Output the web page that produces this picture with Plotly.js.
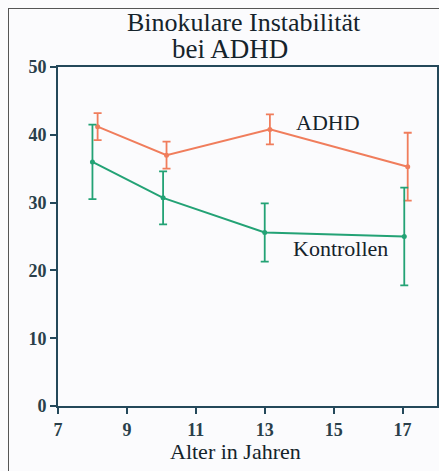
<!DOCTYPE html>
<html><head><meta charset="utf-8">
<script src="https://cdn.plot.ly/plotly-3.0.1.min.js"></script>
<style>
html,body{margin:0;padding:0;background:#fbfbfd;overflow:hidden}
#frame{position:absolute;left:8px;top:8px;width:460px;height:480px;border:1.5px solid #555;box-sizing:border-box;pointer-events:none}
#chart{position:absolute;left:0;top:0;width:439px;height:471px}
</style></head><body>
<div id="chart"></div><div id="frame"></div>
<script>
const adhdAge = [8.15, 10.15, 13.15, 17.15];
const adhdVal = [41.2, 37.0, 40.8, 35.3];
const adhdErr = [2.0, 2.0, 2.2, 5.0];
const ctrlAge = [8.0, 10.05, 13.0, 17.05];
const ctrlVal = [36.0, 30.7, 25.6, 25.0];
const ctrlErr = [5.5, 3.9, 4.3, 7.2];
const xTicks = [7, 9, 11, 13, 15, 17];
const yTicks = [0, 10, 20, 30, 40, 50];

const serif = "Liberation Serif, Times New Roman, serif";
const axisCol = "#24485a";
const txt = "#15232b";

const traces = [
  {x: adhdAge, y: adhdVal, mode: "lines+markers", type: "scatter",
   line: {color: "#f07d5c", width: 2}, marker: {color: "#f07d5c", size: 5},
   error_y: {type: "data", array: adhdErr, color: "#f07d5c", thickness: 1.8, width: 4}},
  {x: ctrlAge, y: ctrlVal, mode: "lines+markers", type: "scatter",
   line: {color: "#23a275", width: 2}, marker: {color: "#23a275", size: 5},
   error_y: {type: "data", array: ctrlErr, color: "#23a275", thickness: 1.8, width: 4}}
];

const tickFont = {size: 18, family: serif, color: "#2a3f4a", weight: "bold"};
const layout = {
  width: 439, height: 471,
  margin: {l: 58, r: 2, t: 67, b: 65},
  paper_bgcolor: "rgba(0,0,0,0)", plot_bgcolor: "#fbfbfd",
  showlegend: false,
  font: {family: serif, color: txt},
  xaxis: {range: [7, 18], tickvals: xTicks, ticktext: xTicks.map(String),
    showgrid: false, zeroline: false, showline: true, linecolor: axisCol, linewidth: 2,
    mirror: true, ticks: "outside", ticklen: 6, tickwidth: 2, tickcolor: axisCol,
    tickfont: tickFont},
  yaxis: {range: [0, 50], tickvals: yTicks, ticktext: yTicks.map(String),
    showgrid: false, zeroline: false, showline: true, linecolor: axisCol, linewidth: 2,
    mirror: true, ticks: "outside", ticklen: 6, tickwidth: 2, tickcolor: axisCol,
    tickfont: tickFont},
  annotations: [
    {text: "Binokulare Instabilität", xref: "paper", yref: "paper", x: (244-58)/379, y: 1 + (67-22)/339,
     showarrow: false, font: {size: 26, family: serif, color: txt}, xanchor: "center", yanchor: "middle"},
    {text: "bei ADHD", xref: "paper", yref: "paper", x: (230-58)/379, y: 1 + (67-49)/339,
     showarrow: false, font: {size: 27, family: serif, color: txt}, xanchor: "center", yanchor: "middle"},
    {text: "Alter in Jahren", xref: "paper", yref: "paper", x: (235-58)/379, y: -(452-406)/339,
     showarrow: false, font: {size: 22, family: serif, color: txt}, xanchor: "center", yanchor: "middle"},
    {text: "ADHD", xref: "x", yref: "y", x: 14.85, y: 41.8,
     showarrow: false, font: {size: 22, family: serif, color: txt}, xanchor: "center", yanchor: "middle"},
    {text: "Kontrollen", xref: "x", yref: "y", x: 15.2, y: 23.3,
     showarrow: false, font: {size: 22, family: serif, color: txt}, xanchor: "center", yanchor: "middle"}
  ]
};
Plotly.newPlot("chart", traces, layout, {displayModeBar: false, staticPlot: true});
</script></body></html>
